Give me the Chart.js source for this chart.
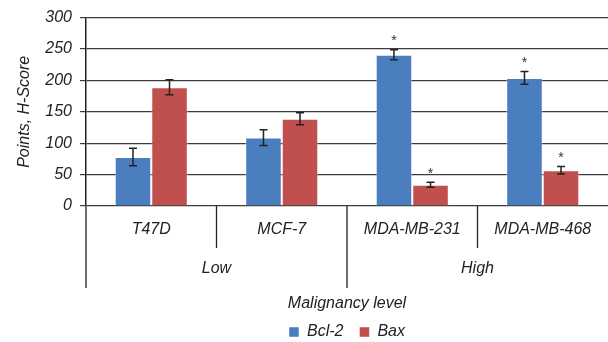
<!DOCTYPE html>
<html>
<head>
<meta charset="utf-8">
<script src="https://cdn.jsdelivr.net/npm/chart.js@4/dist/chart.umd.min.js"></script>
<style>
  html, body { margin: 0; padding: 0; background: #fff; }
  #wrap { width: 608px; height: 342px; }
</style>
</head>
<body>
<div id="wrap"><canvas id="chart" width="608" height="342"></canvas></div>
<script>
// ---- data ----
const cellLines  = ['T47D', 'MCF-7', 'MDA-MB-231', 'MDA-MB-468'];
const malignancy = ['Low', 'Low', 'High', 'High'];
const bcl2       = [78, 109, 241, 204];
const bcl2Err    = [14, 12.5, 8, 10];
const bax        = [189, 139, 34, 57];
const baxErr     = [12, 9.5, 4, 6];
const bcl2Sig    = [false, false, true, true];
const baxSig     = [false, false, true, true];
const yTicks     = [0, 50, 100, 150, 200, 250, 300];

const FONT = 'Liberation Sans, Arial, sans-serif';
const INK  = '#222';

Chart.defaults.font.family = FONT;
Chart.defaults.font.size = 16;
Chart.defaults.font.style = 'italic';
Chart.defaults.color = INK;

// error bars + asterisks
const errorBars = {
  id: 'errorBars',
  afterDatasetsDraw(chart) {
    const { ctx } = chart;
    const y = chart.scales.y;
    chart.data.datasets.forEach((ds, di) => {
      const meta = chart.getDatasetMeta(di);
      meta.data.forEach((bar, i) => {
        const v = ds.data[i], e = ds.errors[i];
        const top = y.getPixelForValue(v + e);
        const bot = y.getPixelForValue(v - e);
        ctx.save();
        ctx.strokeStyle = INK;
        ctx.lineWidth = 1.5;
        ctx.beginPath();
        ctx.moveTo(bar.x, top); ctx.lineTo(bar.x, bot);
        ctx.moveTo(bar.x - 4, top); ctx.lineTo(bar.x + 4, top);
        ctx.moveTo(bar.x - 4, bot); ctx.lineTo(bar.x + 4, bot);
        ctx.stroke();
        if (ds.sig[i]) {
          ctx.fillStyle = '#333';
          ctx.font = `14px ${FONT}`;
          ctx.textAlign = 'center';
          ctx.textBaseline = 'middle';
          ctx.fillText('*', bar.x, top - 8);
        }
        ctx.restore();
      });
    });
  }
};

// two-level category axis drawn under the plot
const groupAxis = {
  id: 'groupAxis',
  afterDraw(chart) {
    const { ctx, chartArea } = chart;
    const x = chart.scales.x;
    const base = chartArea.bottom;
    const centers = cellLines.map((_, i) => x.getPixelForValue(i));
    const bounds = [chartArea.left];
    for (let i = 0; i < centers.length - 1; i++) bounds.push((centers[i] + centers[i + 1]) / 2);
    bounds.push(chartArea.right);

    ctx.save();
    ctx.strokeStyle = INK;
    ctx.lineWidth = 1.3;
    ctx.beginPath();
    for (let i = 0; i < bounds.length - 1; i++) {
      const outer = i === 0 || malignancy[i] !== malignancy[i - 1];
      ctx.moveTo(bounds[i], base);
      ctx.lineTo(bounds[i], base + (outer ? 82 : 42));
    }
    ctx.stroke();

    ctx.fillStyle = INK;
    ctx.textAlign = 'center';
    ctx.textBaseline = 'middle';
    ctx.font = `italic 16px ${FONT}`;
    cellLines.forEach((name, i) => ctx.fillText(name, centers[i], base + 24));

    // group labels
    let start = 0;
    for (let i = 1; i <= malignancy.length; i++) {
      if (i === malignancy.length || malignancy[i] !== malignancy[start]) {
        ctx.fillText(malignancy[start], (bounds[start] + bounds[i]) / 2, base + 63);
        start = i;
      }
    }
    ctx.fillText('Malignancy level', (chartArea.left + chartArea.right) / 2, base + 98);
    ctx.restore();
  }
};

new Chart(document.getElementById('chart').getContext('2d'), {
  type: 'bar',
  data: {
    labels: cellLines,
    datasets: [
      { label: 'Bcl-2', data: bcl2, errors: bcl2Err, sig: bcl2Sig,
        backgroundColor: '#4a7ebf', borderColor: 'rgba(255,255,255,0.45)', borderWidth: 1 },
      { label: 'Bax', data: bax, errors: baxErr, sig: baxSig,
        backgroundColor: '#c0504d', borderColor: 'rgba(255,255,255,0.45)', borderWidth: 1 }
    ]
  },
  options: {
    responsive: false,
    animation: false,
    devicePixelRatio: 1,
    layout: { padding: { top: 17, left: 0, right: 0, bottom: -8 } },
    datasets: { bar: { categoryPercentage: 0.56, barPercentage: 1 } },
    scales: {
      x: {
        ticks: { display: false },
        grid: { display: false, drawTicks: false },
        border: { display: false },
        afterFit(s) { s.height = 102; }
      },
      y: {
        min: 0, max: 300,
        afterBuildTicks(s) { s.ticks = yTicks.map(v => ({ value: v })); },
        afterFit(s) { s.width = 86; },
        ticks: {
          color: INK, padding: 8,
          font: { family: FONT, size: 16, style: 'italic' }
        },
        grid: { color: '#3c3c3c', lineWidth: 1.2, tickLength: 6 },
        border: { color: INK, width: 1.5 },
        title: {
          display: true, text: 'Points, H-Score', color: INK,
          padding: { top: 15, bottom: 0 },
          font: { family: FONT, size: 16, style: 'italic' }
        }
      }
    },
    plugins: {
      legend: {
        position: 'bottom',
        fullSize: false,
        labels: {
          color: INK, boxWidth: 10, boxHeight: 10, padding: 16,
          font: { family: FONT, size: 16, style: 'italic' }
        }
      },
      tooltip: { enabled: false }
    }
  },
  plugins: [errorBars, groupAxis]
});
</script>
</body>
</html>
